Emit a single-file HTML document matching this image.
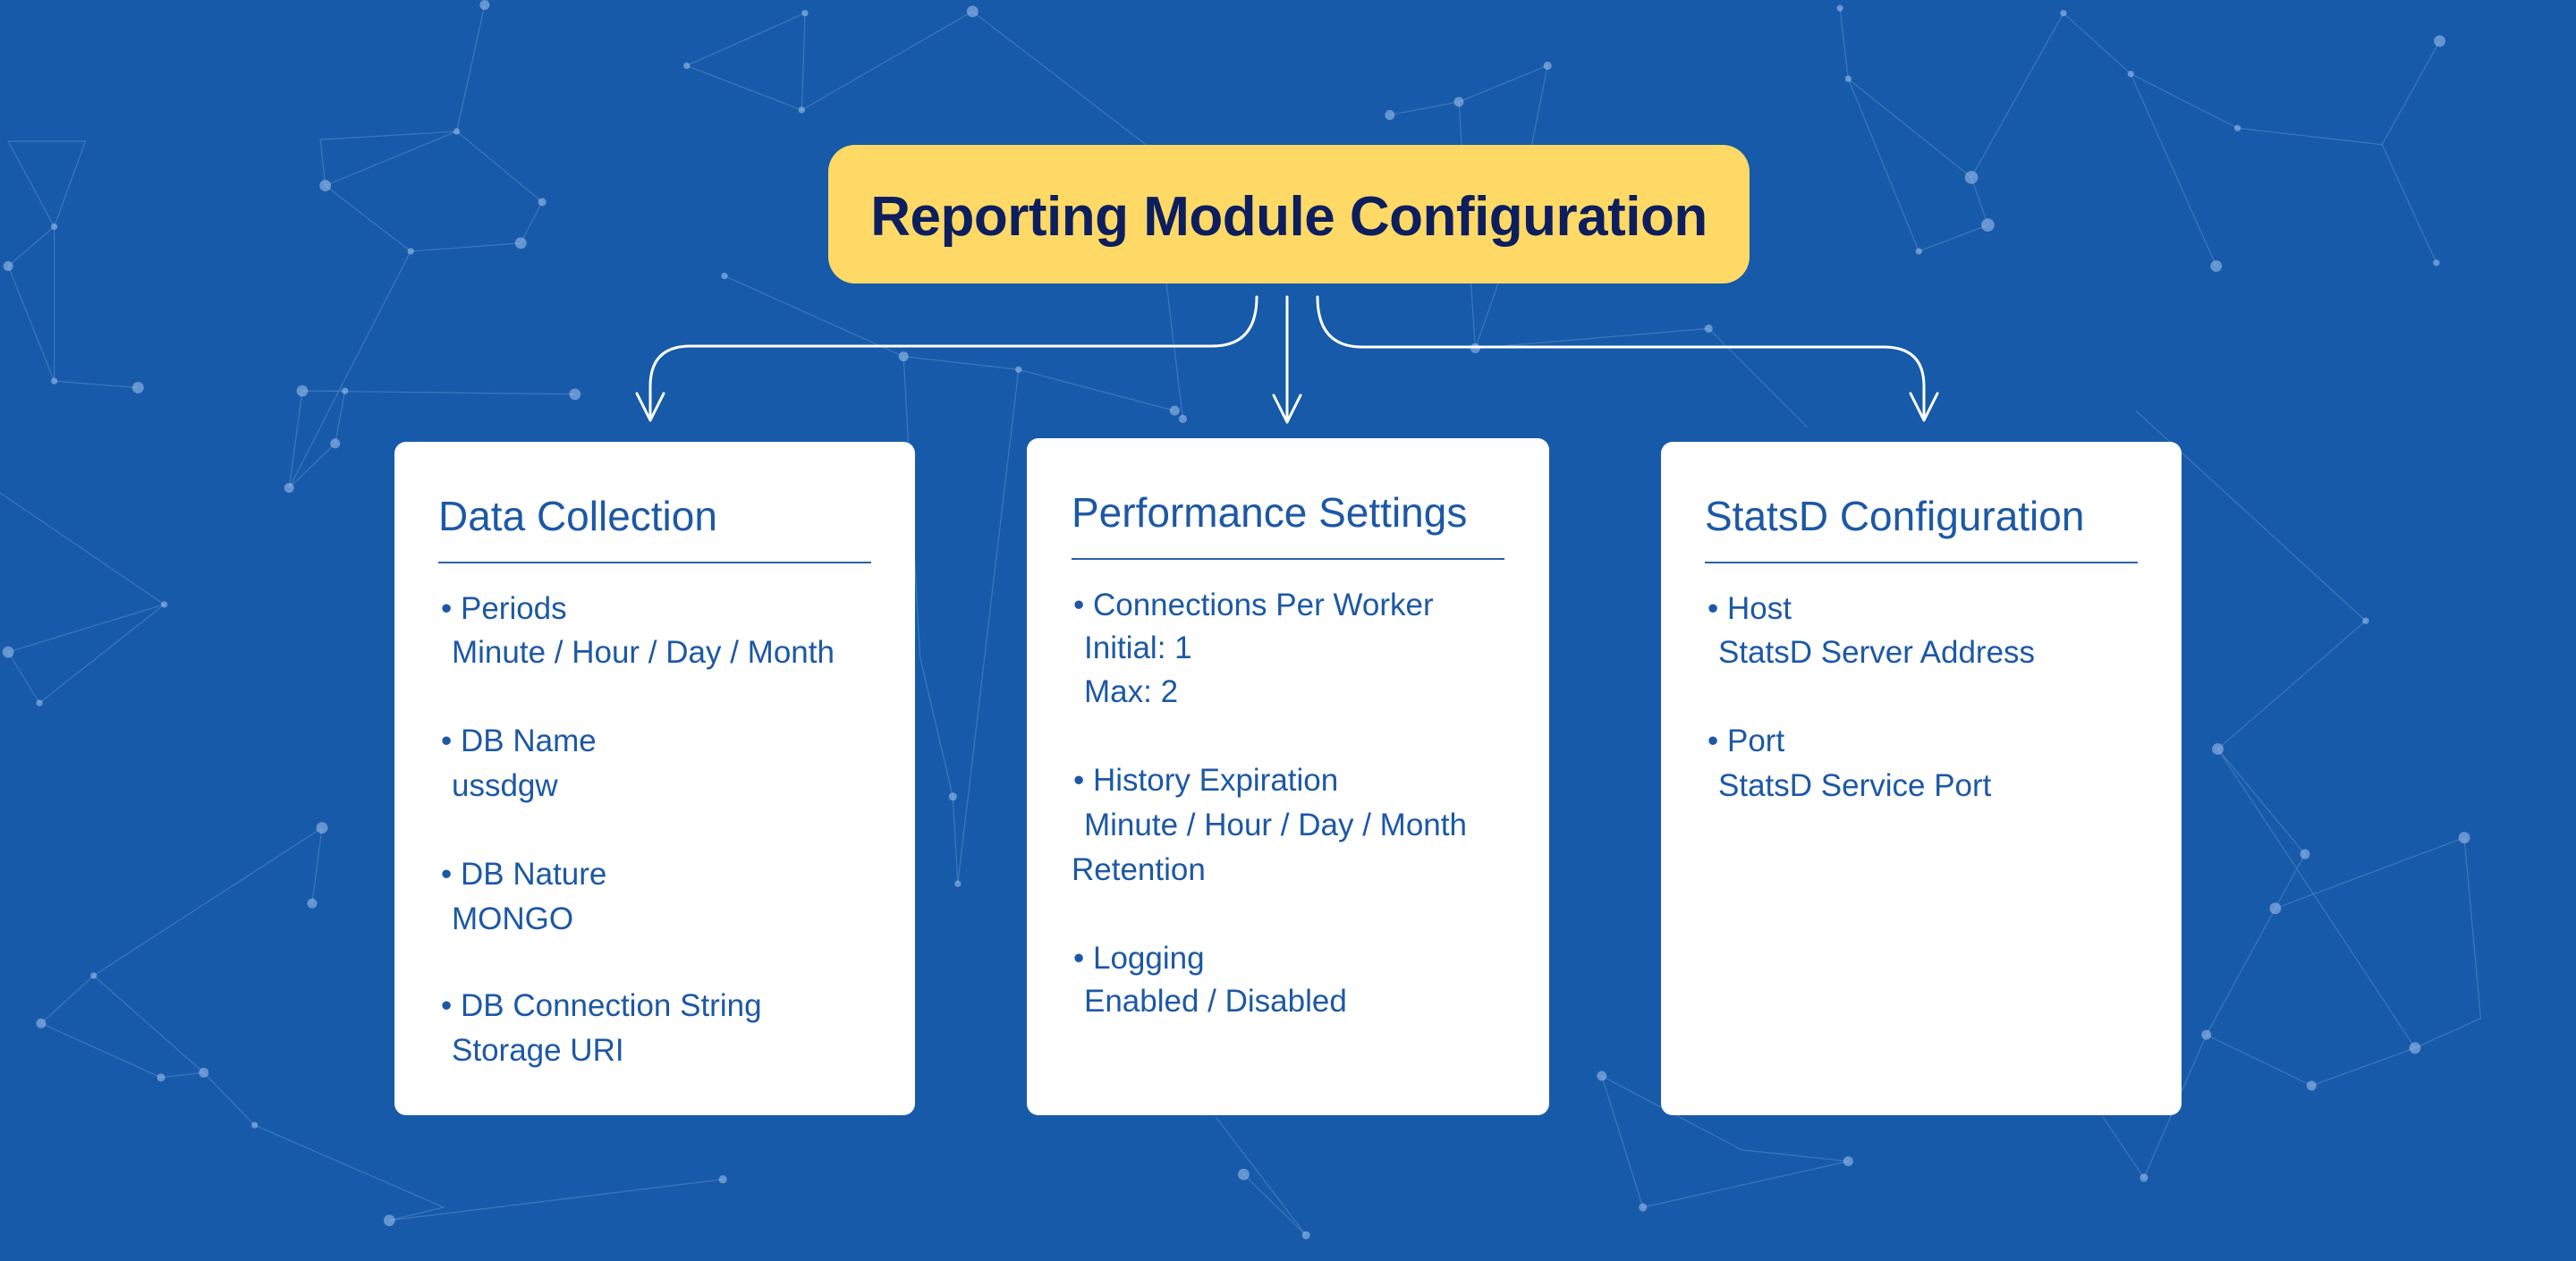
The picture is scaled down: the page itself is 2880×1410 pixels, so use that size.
<!DOCTYPE html>
<html><head><meta charset="utf-8"><style>
html,body{margin:0;padding:0}
body{width:2880px;height:1410px;position:relative;overflow:hidden;background:#165aa9;font-family:"Liberation Sans",sans-serif}
.bg{position:absolute;left:0;top:0}
.hdr{position:absolute;left:926px;top:162px;width:1030px;height:155px;background:#fed966;border-radius:30px}
.hdr div{position:absolute;left:0;width:100%;top:50px;text-align:center;font-weight:bold;font-size:62px;line-height:1;color:#0c1e5e;letter-spacing:-0.5px}
.card{position:absolute;top:494px;height:753px;background:#fff;border-radius:13px}
.t{position:absolute;white-space:nowrap;line-height:1;color:#1c58a6}
.ti{font-size:46px}
.it{font-size:35px}
.hr{position:absolute;height:2px;background:#2a63ad}
</style></head><body>
<svg class="bg" width="2880" height="1410" viewBox="0 0 1568 767.7" preserveAspectRatio="none">
<g stroke="#9fc0ea" stroke-opacity="0.28" stroke-width="0.7" fill="none">
<path d="M295 3L278 80L198 113L250 153L317 148L330 123L278 80L195 85L198 113M250 153L176 297L184 238L210 238L204 270L176 297M184 238L350 240M5 162L33 138L52 86L5 86L33 138L33 232L84 236M5 162L33 232M418 40L488 67L490 8L418 40M488 67L592 7M592 7L700 90L720 255M441 168L550 217L620 225L715 250M550 217L560 400L580 485L583 538M846 70L888 62L942 40L920 150L898 212L1040 200M888 62L898 212M1120 5L1125 48L1200 108L1210 137L1168 153L1125 48M1256 8L1297 45L1362 78L1450 88L1485 25M1297 45L1349 162M1450 88L1483 160M1200 108L1256 8M1440 378L1350 456L1403 520L1385 553L1500 510M1350 456L1470 638L1407 661L1343 630L1305 717L1280 680M1385 553L1343 630M1125 707L1000 735L975 655L1060 700L1125 707M757 715L795 752L740 680M440 718L237 743L270 735L155 685L124 653L98 656L25 623L57 594L124 653M57 594L196 504L190 550M5 397L24 428L100 368L5 397M1500 510L1510 620L1470 638M0 300L100 368M1300 250L1440 378M620 225L583 538M1040 200L1100 260"/>
</g>
<g fill="#a8c6ee" fill-opacity="0.55">
<circle cx="295" cy="3" r="3"/><circle cx="490" cy="8" r="2"/><circle cx="592" cy="7" r="3.5"/><circle cx="418" cy="40" r="2"/><circle cx="488" cy="67" r="2"/><circle cx="278" cy="80" r="2"/><circle cx="198" cy="113" r="3.5"/><circle cx="250" cy="153" r="2"/><circle cx="317" cy="148" r="3.5"/><circle cx="330" cy="123" r="2.5"/><circle cx="5" cy="162" r="3"/><circle cx="33" cy="138" r="2"/><circle cx="33" cy="232" r="2"/><circle cx="84" cy="236" r="3.5"/><circle cx="184" cy="238" r="3.5"/><circle cx="210" cy="238" r="2"/><circle cx="204" cy="270" r="3"/><circle cx="176" cy="297" r="3"/><circle cx="350" cy="240" r="3.5"/><circle cx="441" cy="168" r="2"/><circle cx="550" cy="217" r="3"/><circle cx="620" cy="225" r="2"/><circle cx="715" cy="250" r="3"/><circle cx="720" cy="255" r="2.5"/><circle cx="846" cy="70" r="3"/><circle cx="888" cy="62" r="3"/><circle cx="942" cy="40" r="2.5"/><circle cx="898" cy="212" r="3"/><circle cx="1040" cy="200" r="2.5"/><circle cx="1120" cy="5" r="2"/><circle cx="1125" cy="48" r="2"/><circle cx="1200" cy="108" r="4"/><circle cx="1210" cy="137" r="4"/><circle cx="1168" cy="153" r="2"/><circle cx="1256" cy="8" r="2"/><circle cx="1297" cy="45" r="2"/><circle cx="1362" cy="78" r="2"/><circle cx="1485" cy="25" r="3.5"/><circle cx="1349" cy="162" r="3.5"/><circle cx="1483" cy="160" r="2"/><circle cx="1440" cy="378" r="2"/><circle cx="1350" cy="456" r="3.5"/><circle cx="1403" cy="520" r="3"/><circle cx="1385" cy="553" r="3.5"/><circle cx="1500" cy="510" r="3.5"/><circle cx="1470" cy="638" r="3.5"/><circle cx="1407" cy="661" r="3"/><circle cx="1343" cy="630" r="3"/><circle cx="1305" cy="717" r="2.5"/><circle cx="1125" cy="707" r="3"/><circle cx="1000" cy="735" r="2.5"/><circle cx="975" cy="655" r="3"/><circle cx="757" cy="715" r="3.5"/><circle cx="795" cy="752" r="2.5"/><circle cx="440" cy="718" r="2.5"/><circle cx="237" cy="743" r="3.5"/><circle cx="155" cy="685" r="2"/><circle cx="124" cy="653" r="3"/><circle cx="98" cy="656" r="2.5"/><circle cx="25" cy="623" r="3"/><circle cx="57" cy="594" r="2"/><circle cx="196" cy="504" r="3.5"/><circle cx="190" cy="550" r="3"/><circle cx="5" cy="397" r="3.5"/><circle cx="24" cy="428" r="2"/><circle cx="100" cy="368" r="2"/><circle cx="580" cy="485" r="2.5"/><circle cx="583" cy="538" r="2"/>
</g>
</svg>
<svg class="bg" width="2880" height="1410">
<g stroke="#fff" stroke-width="3" fill="none" stroke-linecap="round" stroke-linejoin="round">
<path d="M1405 332 Q1405 387 1355 387 L772 387 Q727 387 727 432 L727 468"/>
<path d="M712 440 L727 470 L742 440"/>
<path d="M1439 332 L1439 472"/>
<path d="M1424 442 L1439 472 L1454 442"/>
<path d="M1473 332 Q1473 388 1523 388 L2106 388 Q2151 388 2151 432 L2151 468"/>
<path d="M2136 440 L2151 470 L2166 440"/>
</g>
</svg>
<div class="hdr"><div>Reporting Module Configuration</div></div>

<div class="card" style="left:441px;width:582px"></div>
<div class="t ti" style="left:490px;top:554px">Data Collection</div>
<div class="hr" style="left:490px;width:484px;top:628px"></div>
<div class="t it" style="left:493px;top:663px">• Periods</div>
<div class="t it" style="left:505px;top:712px">Minute / Hour / Day / Month</div>
<div class="t it" style="left:493px;top:811px">• DB Name</div>
<div class="t it" style="left:505px;top:861px">ussdgw</div>
<div class="t it" style="left:493px;top:960px">• DB Nature</div>
<div class="t it" style="left:505px;top:1010px">MONGO</div>
<div class="t it" style="left:493px;top:1107px">• DB Connection String</div>
<div class="t it" style="left:505px;top:1157px">Storage URI</div>

<div class="card" style="left:1148px;width:584px;top:490px;height:757px"></div>
<div class="t ti" style="left:1198px;top:550px">Performance Settings</div>
<div class="hr" style="left:1198px;width:484px;top:624px"></div>
<div class="t it" style="left:1200px;top:659px">• Connections Per Worker</div>
<div class="t it" style="left:1212px;top:707px">Initial: 1</div>
<div class="t it" style="left:1212px;top:756px">Max: 2</div>
<div class="t it" style="left:1200px;top:855px">• History Expiration</div>
<div class="t it" style="left:1212px;top:905px">Minute / Hour / Day / Month</div>
<div class="t it" style="left:1198px;top:955px">Retention</div>
<div class="t it" style="left:1200px;top:1054px">• Logging</div>
<div class="t it" style="left:1212px;top:1102px">Enabled / Disabled</div>

<div class="card" style="left:1857px;width:582px"></div>
<div class="t ti" style="left:1906px;top:554px">StatsD Configuration</div>
<div class="hr" style="left:1906px;width:484px;top:628px"></div>
<div class="t it" style="left:1909px;top:663px">• Host</div>
<div class="t it" style="left:1921px;top:712px">StatsD Server Address</div>
<div class="t it" style="left:1909px;top:811px">• Port</div>
<div class="t it" style="left:1921px;top:861px">StatsD Service Port</div>
</body></html>
